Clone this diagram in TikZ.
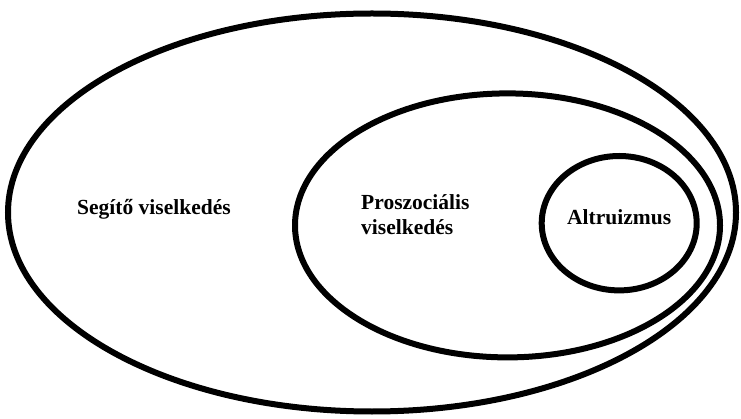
\documentclass[tikz,border=0pt]{standalone}
\usepackage{fontspec}
\setmainfont{Liberation Serif}[BoldFont={Liberation Serif Bold}]
\newfontfamily\labfont{Liberation Serif Bold}
\usetikzlibrary{shapes.geometric}
\begin{document}
\begin{tikzpicture}[x=1pt,y=-1pt,
  ring/.style={draw=black, line width=6pt, ellipse, inner sep=0pt, outer sep=0pt},
  lab/.style={font=\labfont\fontsize{21.5}{25}\selectfont, text=black, inner sep=0pt, anchor=base west}]
\useasboundingbox[fill=white] (0,0) rectangle (741,419);
\node[ring, minimum width=728pt, minimum height=398pt] (outer) at (372,212.5) {};
\node[ring, minimum width=425pt, minimum height=264pt] (middle) at (507.5,225.4) {};
\node[ring, minimum width=155pt, minimum height=134.4pt] (inner) at (619.2,223.2) {};
\node[lab] (segito) at (77,215) {Segítő viselkedés};
\node[lab, align=left] (proszo) at (361,235) {Proszociális\\viselkedés};
\node[lab] (altru) at (567,225) {Altruizmus};
\end{tikzpicture}
\end{document}
